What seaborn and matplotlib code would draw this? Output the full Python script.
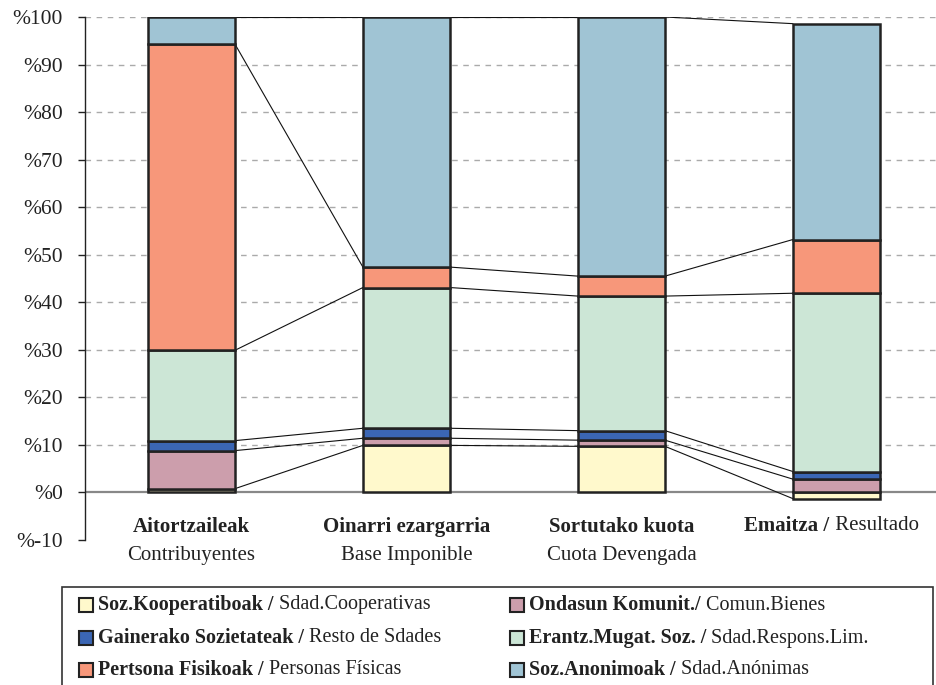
import seaborn as sns
import matplotlib.pyplot as plt
from matplotlib.patches import Rectangle
import numpy as np

# Datuak / datos (%)
kategoriak = ['Aitortzaileak', 'Oinarri ezargarria', 'Sortutako kuota', 'Emaitza /']
kategoriak_es = ['Contribuyentes', 'Base Imponible', 'Cuota Devengada', 'Resultado']

serieak_eu = ['Soz.Kooperatiboak /', 'Ondasun Komunit./', 'Gainerako Sozietateak /',
              'Erantz.Mugat. Soz. /', 'Pertsona Fisikoak /', 'Soz.Anonimoak /']
serieak_es = ['Sdad.Cooperativas', 'Comun.Bienes', 'Resto de Sdades',
              'Sdad.Respons.Lim.', 'Personas Físicas', 'Sdad.Anónimas']

kooperatiboak = [0.8, 9.9, 9.7, -1.3]
ondasun = [8.0, 1.5, 1.3, 2.8]
gainerako = [2.1, 2.1, 2.0, 1.6]
erantz = [19.0, 29.6, 28.3, 37.5]
pertsona = [64.4, 4.3, 4.2, 11.3]
anonimoak = [5.7, 52.6, 54.5, 45.4]

kolorea = ['#FFF9CC', '#CC9EAC', '#3B66B4', '#CCE6D6', '#F7977A', '#A0C4D4']

sns.set_style('white')
plt.rcParams['font.family'] = ['Liberation Serif', 'DejaVu Serif']

W, H = 936, 685
fig = plt.figure(figsize=(W / 100, H / 100), dpi=100)
ax = fig.add_axes([85 / W, (H - 540) / H, (W - 85) / W, (540 - 17) / H])

zabal = 0.405
datuak = [kooperatiboak, ondasun, gainerako, erantz, pertsona, anonimoak]
pos = np.zeros(4)
neg = np.zeros(4)
goiak = []
for balioak, c in zip(datuak, kolorea):
    v = np.array(balioak)
    behea = np.where(v >= 0, pos, neg)
    sns.barplot(x=kategoriak, y=v, bottom=behea, color=c, saturation=1, width=zabal,
                edgecolor='#222222', linewidth=1.8, errorbar=None, ax=ax, zorder=3)
    goia = behea + v
    goiak.append(goia)
    pos = np.where(v >= 0, goia, pos)
    neg = np.where(v < 0, goia, neg)

# serie-lerroak
for goia in goiak:
    for i in range(3):
        ax.plot([i + zabal / 2, i + 1 - zabal / 2], [goia[i], goia[i + 1]],
                color='#111111', lw=0.8, zorder=2)

# sareta
for y in range(10, 101, 10):
    ax.axhline(y, color='#AAAAAA', lw=1, ls=(0, (4, 4)), zorder=1)
ax.axhline(0, color='#888888', lw=1.6, zorder=1)

ax.set_xlim(-0.495, 3.463)
ax.set_ylim(-10, 100)
ax.set_yticks(range(-10, 101, 10))
ax.set_yticklabels([f'%{v}' for v in range(-10, 101, 10)], fontsize=15.5, color='#222222')
ax.set_xticks([])
ax.set_xlabel('')
ax.set_ylabel('')
for s in ['top', 'right', 'bottom']:
    ax.spines[s].set_visible(False)
ax.spines['left'].set_color('#222222')
ax.spines['left'].set_linewidth(1)
ax.tick_params(axis='y', direction='out', length=5, width=1, color='#222222', pad=11, left=True)

renderer = fig.canvas.get_renderer()


def bi_zati(x, y, lodia, arrunta, size, erdian=False):
    t = fig.text(x / W, 1 - y / H, lodia, fontsize=size, fontweight='bold',
                 va='center', ha='left', color='#222222')
    t2 = fig.text(x / W, 1 - y / H, ' ' + arrunta, fontsize=size,
                  va='center', ha='left', color='#222222')
    b1 = t.get_window_extent(renderer=renderer)
    b2 = t2.get_window_extent(renderer=renderer)
    if erdian:
        x = x - (b1.width + b2.width) / 2
        t.set_x(x / W)
    t2.set_x((x + b1.width) / W)


# kategoria-etiketak
for i in range(3):
    ax.text(i, -7.3, kategoriak[i], ha='center', va='center', fontsize=15,
            fontweight='bold', color='#222222')
    ax.text(i, -13.2, kategoriak_es[i], ha='center', va='center', fontsize=15,
            color='#222222', clip_on=False)
x4 = ax.transData.transform((3, 0))[0] - 5
bi_zati(x4, 526, kategoriak[3], kategoriak_es[3], 15, erdian=True)

# legenda
fig.patches.append(Rectangle((62 / W, -0.1), (933 - 62) / W, 0.1 + (H - 587) / H,
                             transform=fig.transFigure, fill=False,
                             edgecolor='#333333', lw=1.2))
errenkadak = [605, 638, 670]
zutabeak = [79, 510]
for k in range(6):
    x0 = zutabeak[k % 2]
    y0 = errenkadak[k // 2]
    fig.patches.append(Rectangle((x0 / W, 1 - (y0 + 7) / H), 14 / W, 14 / H,
                                 transform=fig.transFigure, facecolor=kolorea[k],
                                 edgecolor='#222222', lw=1.5))
    bi_zati(x0 + 19, y0, serieak_eu[k], serieak_es[k], 14.5)

fig.savefig('out.png', dpi=100)
